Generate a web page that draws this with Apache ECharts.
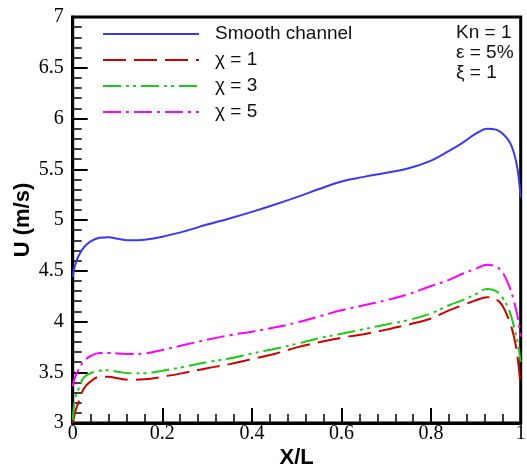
<!DOCTYPE html>
<html>
<head>
<meta charset="utf-8">
<script src="https://cdn.jsdelivr.net/npm/echarts@6/dist/echarts.min.js"></script>
<style>html,body{margin:0;padding:0;background:#fff}#c{width:527px;height:466px}</style>
</head>
<body>
<div id="c"></div>
<script>
const xPos = [0, 0.005, 0.0125, 0.025, 0.04, 0.06, 0.08, 0.1, 0.13, 0.16, 0.2, 0.25, 0.3, 0.35, 0.4, 0.45, 0.5, 0.55, 0.6, 0.65, 0.7, 0.75, 0.8, 0.84, 0.87, 0.9, 0.925, 0.945, 0.96, 0.975, 0.985, 0.993, 1.0];
const smooth = [4.44, 4.55, 4.64, 4.73, 4.79, 4.825, 4.83, 4.815, 4.80, 4.805, 4.835, 4.89, 4.955, 5.015, 5.08, 5.15, 5.225, 5.305, 5.38, 5.425, 5.465, 5.51, 5.585, 5.68, 5.76, 5.85, 5.90, 5.89, 5.85, 5.77, 5.66, 5.50, 5.22];
const chi1 = [3.0, 3.10, 3.20, 3.34, 3.41, 3.455, 3.455, 3.44, 3.425, 3.43, 3.455, 3.495, 3.54, 3.58, 3.63, 3.68, 3.745, 3.795, 3.84, 3.875, 3.92, 3.97, 4.03, 4.11, 4.16, 4.21, 4.24, 4.22, 4.15, 4.00, 3.85, 3.65, 3.35];
const chi3 = [3.03, 3.23, 3.33, 3.45, 3.49, 3.515, 3.52, 3.505, 3.49, 3.49, 3.515, 3.555, 3.60, 3.635, 3.685, 3.73, 3.78, 3.835, 3.88, 3.925, 3.97, 4.015, 4.08, 4.16, 4.21, 4.27, 4.32, 4.30, 4.23, 4.10, 3.95, 3.80, 3.60];
const chi5 = [3.36, 3.45, 3.52, 3.61, 3.66, 3.69, 3.69, 3.685, 3.68, 3.685, 3.72, 3.77, 3.82, 3.865, 3.90, 3.94, 3.99, 4.05, 4.11, 4.16, 4.21, 4.27, 4.35, 4.41, 4.47, 4.52, 4.56, 4.54, 4.48, 4.34, 4.20, 4.05, 3.85];
const seriesNames = ['Smooth channel', 'χ = 1', 'χ = 3', 'χ = 5'];
const annotation = ['Kn = 1', 'ε = 5%', 'ξ = 1'];

const pair = v => xPos.map((x, i) => [x, v[i]]);
const styles = [
  {color: '#3838f5', type: 'solid'},
  {color: '#d00000', type: [23, 8]},
  {color: '#18cc18', type: [18, 5, 3, 4, 3, 5]},
  {color: '#ff00ff', type: [18, 5, 3, 5]}
];
const vals = [smooth, chi1, chi3, chi5];

const chart = echarts.init(document.getElementById('c'), null, {renderer: 'canvas'});
const serif = '"Liberation Serif", "Times New Roman", serif';
const sans = '"Liberation Sans", Arial, sans-serif';
chart.setOption({
  animation: false,
  grid: {left: 72.7, right: 6.3, top: 17, bottom: 43, outerBoundsMode: 'none', containLabel: false,
         show: true, borderColor: '#000', borderWidth: 3, backgroundColor: 'transparent'},
  legend: {
    orient: 'vertical', left: 102, top: 24.5, padding: 0, itemWidth: 96, itemHeight: 14, itemGap: 7,
    itemStyle: {opacity: 0},
    textStyle: {fontFamily: sans, fontSize: 19, color: '#111', padding: [0, 0, 0, 11]},
    data: seriesNames
  },
  xAxis: {
    type: 'value', min: 0, max: 1, interval: 0.2,
    name: 'X/L', nameLocation: 'middle', nameGap: 24, nameMoveOverlap: false,
    nameTextStyle: {fontFamily: sans, fontWeight: 'bold', fontSize: 22, color: '#000'},
    axisLine: {lineStyle: {color: '#000', width: 3}},
    axisTick: {inside: true, length: 15, lineStyle: {width: 2, color: '#000'}},
    minorTick: {show: true, splitNumber: 5, length: 9, lineStyle: {width: 1.5, color: '#000'}},
    splitLine: {show: false},
    axisLabel: {fontFamily: serif, fontSize: 20, color: '#000', margin: 1, formatter: v => String(+v.toFixed(1))}
  },
  yAxis: {
    type: 'value', min: 3, max: 7, interval: 0.5,
    name: 'U (m/s)', nameLocation: 'middle', nameGap: 39, nameRotate: 90, nameMoveOverlap: false,
    nameTextStyle: {fontFamily: sans, fontWeight: 'bold', fontSize: 22, color: '#000'},
    axisLine: {lineStyle: {color: '#000', width: 3}},
    axisTick: {inside: true, length: 15, lineStyle: {width: 2, color: '#000'}},
    minorTick: {show: true, splitNumber: 5, length: 9, lineStyle: {width: 1.5, color: '#000'}},
    splitLine: {show: false},
    axisLabel: {fontFamily: serif, fontSize: 20, color: '#000', margin: 9, formatter: v => String(+v.toFixed(1))}
  },
  graphic: [{
    type: 'text', left: 456, top: 23,
    style: {text: annotation.join('\n'), font: '19px "Liberation Sans"', fill: '#111', lineHeight: 20, align: 'left'}
  }],
  series: seriesNames.map((n, i) => ({
    name: n, type: 'line', data: pair(vals[i]), showSymbol: false, symbol: 'none',
    smooth: 0.4, clip: true,
    lineStyle: {color: styles[i].color, width: 2, type: styles[i].type},
    itemStyle: {color: styles[i].color}
  }))
});
</script>
</body>
</html>
